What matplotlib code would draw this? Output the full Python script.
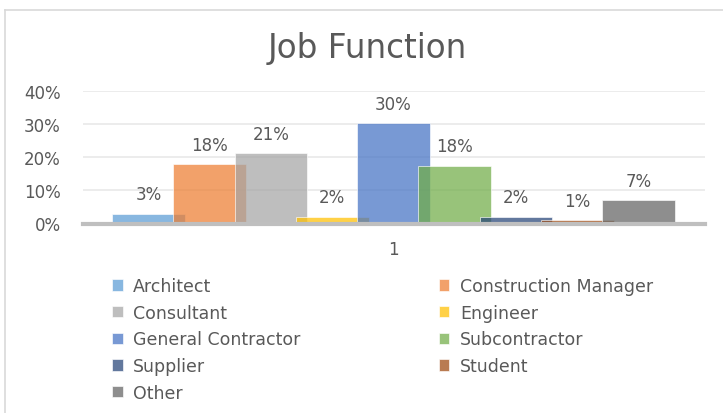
import matplotlib.pyplot as plt
from matplotlib.lines import Line2D

plt.rcParams["font.family"] = ["DejaVu Sans"]

# data
categories = [
    "Architect",
    "Construction Manager",
    "Consultant",
    "Engineer",
    "General Contractor",
    "Subcontractor",
    "Supplier",
    "Student",
    "Other",
]
shares = [0.03, 0.18, 0.213, 0.021, 0.303, 0.175, 0.02, 0.01, 0.07]
labels = ["3%", "18%", "21%", "2%", "30%", "18%", "2%", "1%", "7%"]
colors = [
    "#5B9BD5", "#ED7D31", "#A5A5A5", "#FFC000", "#4472C4",
    "#70AD47", "#264478", "#9E480E", "#636363",
]
y_ticks = [0, 0.1, 0.2, 0.3, 0.4]
y_tick_labels = ["0%", "10%", "20%", "30%", "40%"]

W, H = 723, 414
fig = plt.figure(figsize=(W / 100, H / 100), dpi=100)
text_col = "#595959"

# chart-area border (only top and left edges are visible in the crop)
fig.add_artist(Line2D([5 / W, 1], [1 - 11 / H, 1 - 11 / H],
                      transform=fig.transFigure, color="#D9D9D9", lw=1.2))
fig.add_artist(Line2D([5 / W, 5 / W], [0, 1 - 11 / H],
                      transform=fig.transFigure, color="#D9D9D9", lw=1.2))

ax = fig.add_axes([83 / W, 1 - 224.5 / H, (705 - 83) / W, (224.5 - 92.3) / H])

bars = []
for i, (cat, v, c) in enumerate(zip(categories, shares, colors)):
    b = ax.bar(i, v, width=1.19, color=c, alpha=0.72, edgecolor="white",
               linewidth=0.6, label=cat, zorder=2)
    bars.append(b)
    ax.annotate(labels[i], (i, v), xytext=(0, 14), textcoords="offset points",
                ha="center", va="center", fontsize=12, color=text_col)

ax.set_xlim(-1.07, 9.085)
ax.set_ylim(0, 0.4)
ax.set_yticks(y_ticks)
ax.set_yticklabels(y_tick_labels)
ax.set_xticks([4])
ax.set_xticklabels(["1"])
ax.tick_params(axis="both", length=0, labelsize=12, colors=text_col)
ax.tick_params(axis="y", pad=16)
ax.tick_params(axis="x", pad=12)
ax.grid(axis="y", color="#EBEBEB", linewidth=1.3, zorder=0)
ax.set_axisbelow(True)
for s in ["top", "right", "left"]:
    ax.spines[s].set_visible(False)
ax.spines["bottom"].set_color("#BFBFBF")
ax.spines["bottom"].set_linewidth(3)
ax.spines["bottom"].set_zorder(3)

fig.text(367.5 / W, 1 - 58 / H, "Job Function", ha="center", va="baseline",
         fontsize=23.5, color=text_col)

order = [0, 2, 4, 6, 8, 1, 3, 5, 7]
fig.legend([bars[k] for k in order], [categories[k] for k in order],
           ncol=2, loc="upper left", bbox_to_anchor=(112 / W, 1 - 278 / H),
           frameon=False, fontsize=12.5, labelcolor=text_col,
           borderpad=0, borderaxespad=0,
           handlelength=0.62, handleheight=0.62, handletextpad=0.6,
           columnspacing=7.95, labelspacing=0.5)

fig.savefig("out.png", dpi=100)
